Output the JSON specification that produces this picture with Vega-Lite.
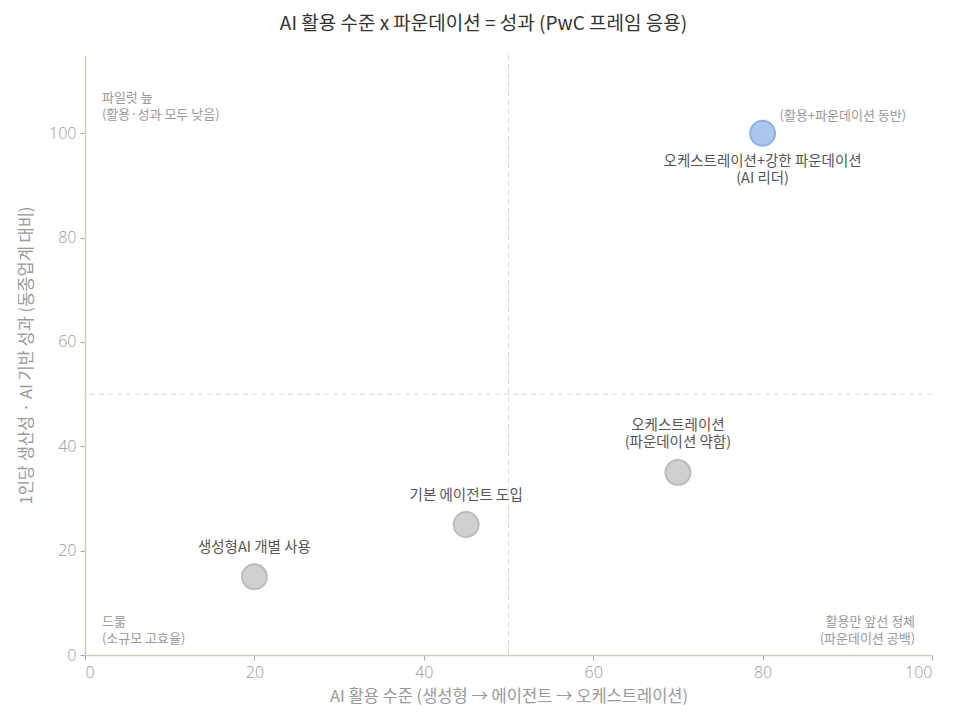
{
  "$schema": "https://vega.github.io/schema/vega-lite/v6.json",
  "autosize": "none",
  "width": 847,
  "height": 600,
  "padding": {"left": 85, "top": 55, "right": 34, "bottom": 70},
  "background": "white",
  "config": {
    "font": "Noto Sans CJK KR",
    "view": {"stroke": null},
    "axis": {
      "grid": false,
      "domainColor": "#d0cdc0",
      "domainWidth": 1.5,
      "tickColor": "#aaaaaa",
      "tickSize": 5,
      "labelColor": "#999999",
      "labelFontSize": 16,
      "labelFont": "Open Sans",
      "labelFontWeight": 300,
      "titleColor": "#999999",
      "titleFontSize": 16.5,
      "titleFontWeight": "normal"
    }
  },
  "title": {
    "text": "AI 활용 수준 x 파운데이션 = 성과 (PwC 프레임 응용)",
    "fontSize": 19,
    "fontWeight": "normal",
    "color": "#333333",
    "offset": 21,
    "dx": -25
  },
  "datasets": {
    "points": [
      {"x": 20, "y": 15, "group": "기타", "label": "생성형AI 개별 사용", "pos": "above1"},
      {"x": 45, "y": 25, "group": "기타", "label": "기본 에이전트 도입", "pos": "above1"},
      {"x": 70, "y": 35, "group": "기타", "label": "오케스트레이션\n(파운데이션 약함)", "pos": "above2"},
      {"x": 80, "y": 100, "group": "리더", "label": "오케스트레이션+강한 파운데이션\n(AI 리더)", "pos": "below"}
    ],
    "corners": [
      {"x": 2, "y": 106.8, "text": "파일럿 늪\n(활용·성과 모두 낮음)", "side": "left"},
      {"x": 82, "y": 103.4, "text": "(활용+파운데이션 동반)", "side": "left"},
      {"x": 2, "y": 6.4, "text": "드묾\n(소규모 고효율)", "side": "left"},
      {"x": 98, "y": 6.4, "text": "활용만 앞선 정체\n(파운데이션 공백)", "side": "right"}
    ],
    "vline": [{"x": 50}],
    "hline": [{"y": 50}]
  },
  "layer": [
    {
      "data": {"name": "vline"},
      "mark": {"type": "rule", "color": "#d9d9d9", "strokeDash": [5, 4], "strokeWidth": 1},
      "encoding": {"x": {"field": "x", "type": "quantitative", "scale": {"domain": [0, 100]}}}
    },
    {
      "data": {"name": "hline"},
      "mark": {"type": "rule", "color": "#d9d9d9", "strokeDash": [5, 4], "strokeWidth": 1},
      "encoding": {"y": {"field": "y", "type": "quantitative", "scale": {"domain": [0, 115]}}}
    },
    {
      "data": {"name": "points"},
      "mark": {"type": "circle", "size": 620, "opacity": 1, "strokeWidth": 2},
      "encoding": {
        "x": {
          "field": "x", "type": "quantitative",
          "scale": {"domain": [0, 100], "nice": false},
          "axis": {"values": [0, 20, 40, 60, 80, 100], "title": "AI 활용 수준 (생성형 → 에이전트 → 오케스트레이션)", "titlePadding": 8, "labelPadding": 4}
        },
        "y": {
          "field": "y", "type": "quantitative",
          "scale": {"domain": [0, 115], "nice": false},
          "axis": {"values": [0, 20, 40, 60, 80, 100], "title": "1인당 생산성 · AI 기반 성과 (동종업계 대비)", "titlePadding": 14, "labelPadding": 4}
        },
        "fill": {"field": "group", "type": "nominal", "scale": {"domain": ["기타", "리더"], "range": ["#d0d0d0", "#a9c7ef"]}, "legend": null},
        "stroke": {"field": "group", "type": "nominal", "scale": {"domain": ["기타", "리더"], "range": ["#bcbcbc", "#90b2e2"]}, "legend": null}
      }
    },
    {
      "data": {"name": "points"},
      "transform": [{"filter": "datum.pos === 'above1'"}],
      "mark": {"type": "text", "baseline": "bottom", "dy": -22, "fontSize": 14.5, "color": "#555555", "lineBreak": "\n", "lineHeight": 17},
      "encoding": {
        "x": {"field": "x", "type": "quantitative"},
        "y": {"field": "y", "type": "quantitative"},
        "text": {"field": "label"}
      }
    },
    {
      "data": {"name": "points"},
      "transform": [{"filter": "datum.pos === 'above2'"}],
      "mark": {"type": "text", "baseline": "bottom", "dy": -39, "fontSize": 14.5, "color": "#555555", "lineBreak": "\n", "lineHeight": 17},
      "encoding": {
        "x": {"field": "x", "type": "quantitative"},
        "y": {"field": "y", "type": "quantitative"},
        "text": {"field": "label"}
      }
    },
    {
      "data": {"name": "points"},
      "transform": [{"filter": "datum.pos === 'below'"}],
      "mark": {"type": "text", "baseline": "top", "dy": 22, "fontSize": 14.5, "color": "#555555", "lineBreak": "\n", "lineHeight": 17},
      "encoding": {
        "x": {"field": "x", "type": "quantitative"},
        "y": {"field": "y", "type": "quantitative"},
        "text": {"field": "label"}
      }
    },
    {
      "data": {"name": "corners"},
      "transform": [{"filter": "datum.side === 'left'"}],
      "mark": {"type": "text", "align": "left", "baseline": "middle", "fontSize": 13, "color": "#999999", "lineBreak": "\n", "lineHeight": 17},
      "encoding": {
        "x": {"field": "x", "type": "quantitative"},
        "y": {"field": "y", "type": "quantitative"},
        "text": {"field": "text"}
      }
    },
    {
      "data": {"name": "corners"},
      "transform": [{"filter": "datum.side === 'right'"}],
      "mark": {"type": "text", "align": "right", "baseline": "middle", "fontSize": 13, "color": "#999999", "lineBreak": "\n", "lineHeight": 17},
      "encoding": {
        "x": {"field": "x", "type": "quantitative"},
        "y": {"field": "y", "type": "quantitative"},
        "text": {"field": "text"}
      }
    }
  ]
}
